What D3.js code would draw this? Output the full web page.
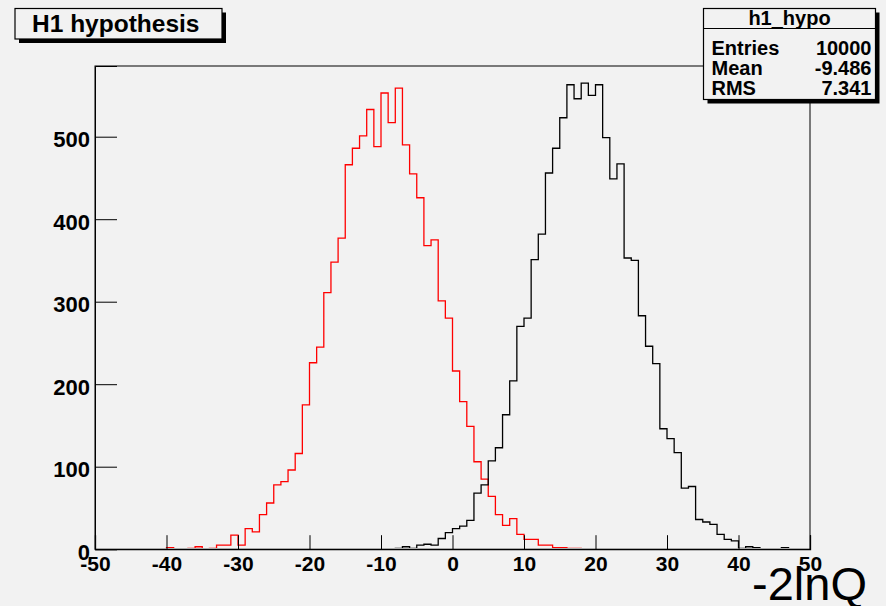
<!DOCTYPE html>
<html>
<head>
<meta charset="utf-8">
<script src="https://cdn.jsdelivr.net/npm/d3@7"></script>
<style>
  html, body { margin: 0; padding: 0; background: #f2f2f2; }
  svg { display: block; }
  text { font-family: "Liberation Sans", Arial, Helvetica, sans-serif; }
</style>
</head>
<body>
<svg id="chart" width="886" height="606"></svg>
<script>
// ---- Data (bin low edges from -50 to 49, width 1) ----
const binLowEdges = d3.range(-50, 50, 1);
// h1_hypo (red)
const redCounts = [
  0,0,0,0,0,0,0,0,0,0,
  2,0,0,1,3,0,1,5,5,17,
  5,25,21,42,56,78,82,96,116,175,
  226,245,311,348,377,466,486,501,533,488,
  553,517,559,490,455,426,368,375,301,280,
  216,179,149,106,85,64,42,29,37,18,
  12,12,5,5,2,2,1,1,0,0,
  0,0,0,0,0,0,0,0,0,0,
  0,0,0,0,0,0,0,0,0,0,
  0,0,0,0,0,0,0,0,0,0
];
// second histogram (black)
const blackCounts = [
  0,0,0,0,0,0,0,0,0,0,
  0,0,0,0,0,0,0,0,0,0,
  0,0,0,0,0,0,0,0,0,0,
  0,0,0,0,0,0,0,0,0,0,
  0,0,1,3,1,5,6,5,13,20,
  25,28,35,68,78,107,123,163,204,270,
  280,351,382,456,486,523,563,546,565,550,
  563,499,449,467,353,350,283,246,225,146,
  134,117,74,76,36,33,30,18,12,10,
  1,3,2,0,0,0,2,0,0,0
];
const xMajorTicks = [-50,-40,-30,-20,-10,0,10,20,30,40,50];
const xTickLabels = ["-50","-40","-30","-20","-10","0","10","20","30","40","50"];
const xMinorTicks = d3.range(-50, 51, 2);
const yMajorTicks = [0,100,200,300,400,500];
const yTickLabels = ["0","100","200","300","400","500"];
const yMinorTicks = d3.range(0, 581, 20);
const titleText = "H1 hypothesis";
const statsTitle = "h1_hypo";
const statsNames = ["Entries","Mean","RMS"];
const statsValues = ["10000","-9.486","7.341"];
const xAxisTitle = "-2lnQ";

// ---- Layout ----
const svg = d3.select("#chart");
const W = 886, H = 606;
const frame = {left: 95, right: 810, top: 66, bottom: 549.2};
const x = d3.scaleLinear().domain([-50, 50]).range([frame.left, frame.right]);
const y = d3.scaleLinear().domain([0, 585.7]).range([frame.bottom, frame.top]);

svg.append("rect").attr("width", W).attr("height", H).attr("fill", "#f2f2f2");

svg.append("defs").append("clipPath").attr("id", "plotclip")
  .append("rect").attr("x", frame.left + 0.5).attr("y", frame.top)
  .attr("width", frame.right - frame.left - 1).attr("height", frame.bottom - frame.top - 1.2);

// histograms
function stepPoints(counts) {
  const pts = [[-50, 0]];
  counts.forEach((c, i) => pts.push([binLowEdges[i], c]));
  pts.push([50, counts[counts.length - 1]]);
  pts.push([50, 0]);
  return pts;
}
const line = d3.line().x(d => x(d[0])).y(d => y(d[1])).curve(d3.curveStepAfter);

const plot = svg.append("g").attr("clip-path", "url(#plotclip)");
plot.append("path").attr("d", line(stepPoints(redCounts)))
  .attr("fill", "none").attr("stroke", "#ff0000").attr("stroke-width", 1.3);
plot.append("path").attr("d", line(stepPoints(blackCounts)))
  .attr("fill", "none").attr("stroke", "#000").attr("stroke-width", 1.3);

// frame
svg.append("rect")
  .attr("x", frame.left).attr("y", frame.top)
  .attr("width", frame.right - frame.left).attr("height", frame.bottom - frame.top)
  .attr("fill", "none").attr("stroke", "#000").attr("stroke-width", 1);

// x axis (ticks inside)
const gx = svg.append("g").attr("transform", `translate(0,${frame.bottom})`);
gx.call(d3.axisBottom(x).tickValues(xMinorTicks).tickSize(-7).tickFormat(""));
gx.call(d3.axisBottom(x).tickValues(xMajorTicks).tickSize(-14).tickPadding(22)
  .tickFormat((d, i) => xTickLabels[i]));
gx.selectAll(".domain").attr("stroke", "#000").attr("stroke-width", 1.3);
gx.selectAll("line").attr("stroke", "#000");
gx.selectAll("text").attr("font-size", 21).attr("font-weight", "bold")
  .attr("fill", "#000").attr("dy", "0");

// y axis (ticks inside)
const gy = svg.append("g").attr("transform", `translate(${frame.left},0)`);
gy.call(d3.axisLeft(y).tickValues(yMinorTicks).tickSize(-11).tickFormat(""));
gy.call(d3.axisLeft(y).tickValues(yMajorTicks).tickSize(-22).tickPadding(5)
  .tickFormat((d, i) => yTickLabels[i]));
gy.selectAll(".domain").attr("stroke", "#000");
gy.selectAll("line").attr("stroke", "#000");
gy.selectAll("text").attr("font-size", 22).attr("font-weight", "bold")
  .attr("fill", "#000").attr("dy", "0.45em");

// x axis title
svg.append("text").attr("x", 867).attr("y", 600).attr("text-anchor", "end")
  .attr("font-size", 47).attr("fill", "#000").text(xAxisTitle);

// title box
const tb = {x: 15, y: 8.5, w: 207, h: 30.5};
svg.append("rect").attr("x", tb.x + 4).attr("y", tb.y + 4).attr("width", tb.w).attr("height", tb.h).attr("fill", "#000");
svg.append("rect").attr("x", tb.x).attr("y", tb.y).attr("width", tb.w).attr("height", tb.h)
  .attr("fill", "#f2f2f2").attr("stroke", "#000").attr("stroke-width", 1.2);
svg.append("text").attr("x", 32).attr("y", 31.5).attr("font-size", 24.5).attr("font-weight", "bold")
  .attr("fill", "#000").text(titleText);

// stats box
const sb = {x: 703.5, y: 8.5, w: 172, h: 91};
svg.append("rect").attr("x", sb.x + 4).attr("y", sb.y + 4).attr("width", sb.w).attr("height", sb.h).attr("fill", "#000");
svg.append("rect").attr("x", sb.x).attr("y", sb.y).attr("width", sb.w).attr("height", sb.h)
  .attr("fill", "#f2f2f2").attr("stroke", "#000").attr("stroke-width", 1.2);
svg.append("line").attr("x1", sb.x).attr("x2", sb.x + sb.w).attr("y1", 28.5).attr("y2", 28.5)
  .attr("stroke", "#000").attr("stroke-width", 1.2);
svg.append("text").attr("x", sb.x + sb.w / 2).attr("y", 25).attr("text-anchor", "middle")
  .attr("font-size", 20).attr("font-weight", "bold").attr("fill", "#000").text(statsTitle);
const rowY = [55, 75.3, 95];
statsNames.forEach((n, i) => {
  svg.append("text").attr("x", 711.5).attr("y", rowY[i]).attr("font-size", 20)
    .attr("font-weight", "bold").attr("fill", "#000").text(n);
  svg.append("text").attr("x", 871.5).attr("y", rowY[i]).attr("text-anchor", "end")
    .attr("font-size", 20).attr("font-weight", "bold").attr("fill", "#000").text(statsValues[i]);
});
</script>
</body>
</html>
